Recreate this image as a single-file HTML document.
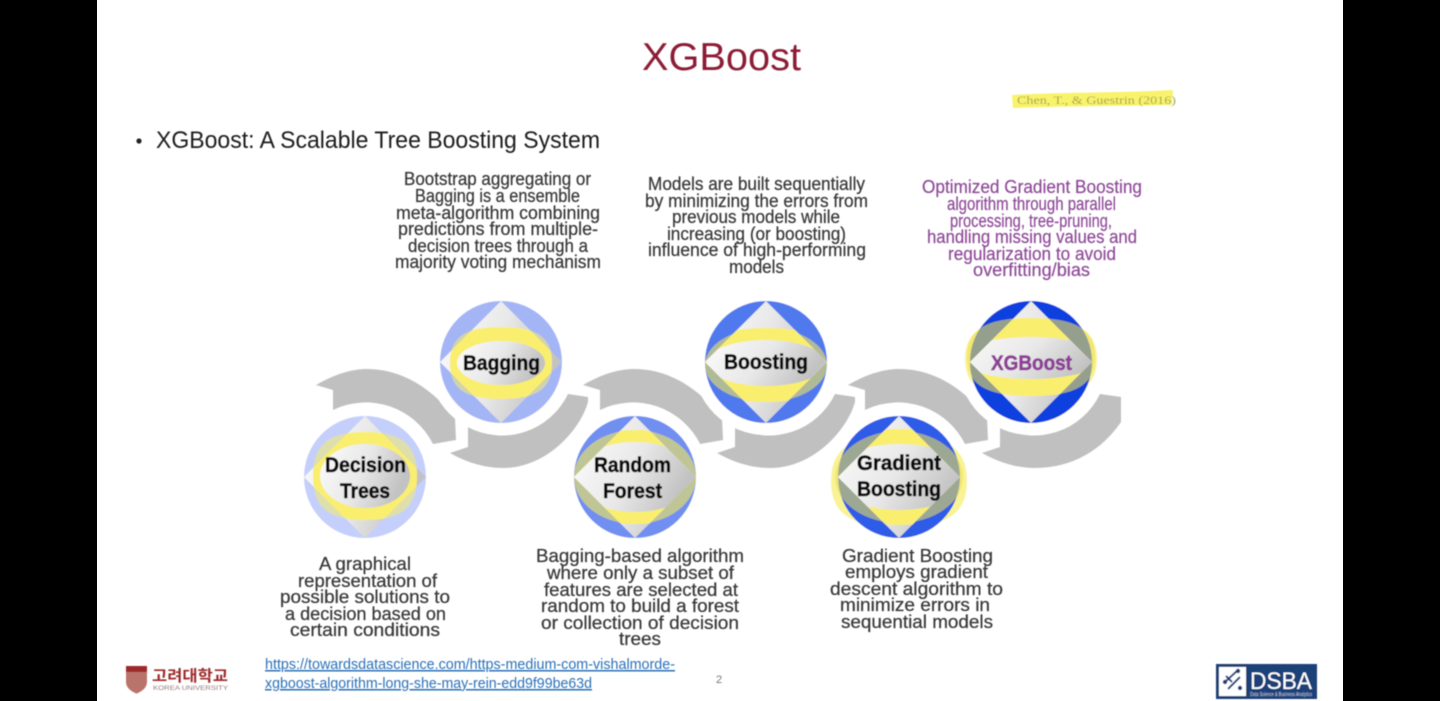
<!DOCTYPE html>
<html lang="en">
<head>
<meta charset="utf-8">
<title>XGBoost</title>
<style>
html,body{margin:0;padding:0;background:#000;width:1440px;height:701px;overflow:hidden}
svg{display:block}
text{font-family:"Liberation Sans","Noto Sans CJK KR",sans-serif}
.p{font-size:18px;fill:#3a3a3a;stroke:#3a3a3a;stroke-width:.25px}
.x{font-size:18px;fill:#8e4a98;stroke:#8e4a98;stroke-width:.2px}
.l{font-size:21px;font-weight:bold;fill:#111;stroke:#111;stroke-width:.6px}
.u{font-size:15px;fill:#2c70b8;text-decoration:underline}
</style>
</head>
<body>
<svg width="1440" height="701" viewBox="0 0 1440 701" xmlns="http://www.w3.org/2000/svg">
<defs>
<filter id="b" filterUnits="userSpaceOnUse" x="0" y="0" width="1440" height="701"><feGaussianBlur stdDeviation=".55"/></filter>
<linearGradient id="g" x1="0" y1="0" x2="1" y2="0.3">
<stop offset="0" stop-color="#fcfcfc"/><stop offset=".55" stop-color="#e8e8e8"/><stop offset="1" stop-color="#c2c2c2"/>
</linearGradient>
<clipPath id="dm"><polygon points="0,-61 61,0 0,61 -61,0"/></clipPath>
<path id="se" d="M-1,0 C-1,-.72 -.7,-1 0,-1 C.7,-1 1,-.72 1,0 C1,.72 .7,1 0,1 C-.7,1 -1,.72 -1,0Z"/>
<path id="a1" d="M316,385 C335,374 352,369 367,369 C405,369 435,392 455,418 L456,440 L433,444 A75,75 0 0 0 333,410 L333,390 Z" fill="#c0c0c0"/>
<path id="a2" d="M450,453 L468,447 L468,427 A73,73 0 0 0 568,394 L588,397 L588,402 C581,428 548,468 503,468 C484,468 466,462 450,453 Z" fill="#c0c0c0"/>
<path id="a3" d="M450,453 L468,447 L468,427 A73,73 0 0 0 568,394 L589,397 L589,422 C570,450 540,468 503,468 C484,468 466,462 450,453 Z" fill="#c0c0c0"/>
</defs>

<rect width="1440" height="701" fill="#000"/>
<rect x="97" y="0" width="1246" height="701" fill="#fff"/>

<g filter="url(#b)">
<!-- title -->
<text x="642" y="70" font-size="39" fill="#8c1f35" textLength="159" lengthAdjust="spacingAndGlyphs">XGBoost</text>
<path d="M1012,95 C1060,92 1120,93 1173,90 L1172,105 C1120,106 1060,106 1013,108 Z" fill="#f8f36a"/>
<text x="1017" y="104" font-size="12" style="font-family:'Liberation Serif',serif" fill="#a8a65a" textLength="159" lengthAdjust="spacingAndGlyphs">Chen, T., &amp; Guestrin (2016)</text>

<circle cx="139" cy="141" r="2.6" fill="#222"/>
<text x="156" y="148" font-size="24" fill="#1c1c1c" textLength="444" lengthAdjust="spacingAndGlyphs">XGBoost: A Scalable Tree Boosting System</text>

<!-- arrows -->
<use href="#a1"/><use href="#a2"/>
<use href="#a1" x="267"/><use href="#a2" x="267"/>
<use href="#a1" x="532"/><use href="#a3" x="532"/>

<!-- nodes -->
<g transform="translate(365,477)">
<circle r="73" fill="#fff"/>
<circle r="61" fill="#c4cffb"/>
<use href="#se" transform="translate(0,-1) scale(52,44)" fill="#f5ec6a" opacity=".55"/>
<polygon points="0,-61 61,0 0,61 -61,0" fill="url(#g)"/>
<g clip-path="url(#dm)"><use href="#se" transform="translate(0,-1) scale(52,44)" fill="#f9ee6e"/><ellipse cy="-1" rx="45" ry="32" fill="url(#g)"/></g>
</g>
<g transform="translate(501,362)">
<circle r="73" fill="#fff"/>
<circle r="61" fill="#a4b5f6"/>
<use href="#se" transform="translate(0,1) scale(51,36)" fill="#f5ec6a" opacity=".55"/>
<polygon points="0,-61 61,0 0,61 -61,0" fill="url(#g)"/>
<g clip-path="url(#dm)"><use href="#se" transform="translate(0,1) scale(51,36)" fill="#f9ee6e"/><ellipse cy="1" rx="44" ry="22" fill="url(#g)"/></g>
</g>
<g transform="translate(635,477)">
<circle r="73" fill="#fff"/>
<circle r="61" fill="#6f8ff1"/>
<ellipse rx="61" ry="47" fill="#f2e65c" opacity=".62"/>
<polygon points="0,-61 61,0 0,61 -61,0" fill="url(#g)"/>
<g clip-path="url(#dm)"><use href="#se" transform="scale(61,47)" fill="#f9ee6e"/><ellipse rx="62" ry="35" fill="url(#g)"/></g>
</g>
<g transform="translate(766,362)">
<circle r="73" fill="#fff"/>
<circle r="61" fill="#5179ee"/>
<ellipse cy="3" rx="61" ry="37" fill="#f2e65c" opacity=".6"/>
<polygon points="0,-61 61,0 0,61 -61,0" fill="url(#g)"/>
<g clip-path="url(#dm)"><use href="#se" transform="translate(0,3) scale(61,37)" fill="#f9ee6e"/><ellipse cy="1" rx="60" ry="23" fill="url(#g)"/></g>
</g>
<g transform="translate(899,477)">
<circle r="73" fill="#fff"/>
<use href="#se" transform="translate(0,4) scale(68,46)" fill="#f7ee6a" opacity=".7"/>
<circle r="61" fill="#2e5ce8"/>
<ellipse rx="64" ry="46" fill="#eee058" opacity=".58"/>
<polygon points="0,-61 61,0 0,61 -61,0" fill="url(#g)"/>
<g clip-path="url(#dm)"><use href="#se" transform="scale(64,48)" fill="#f9ee6e"/><ellipse rx="70" ry="33" fill="url(#g)"/></g>
</g>
<g transform="translate(1031,362)">
<circle r="73" fill="#fff"/>
<use href="#se" transform="translate(0,-3) scale(66,40)" fill="#f7ee6a" opacity=".7"/>
<circle r="61" fill="#0d3fdf"/>
<use href="#se" transform="translate(0,-5) scale(64,39)" fill="#eee058" opacity=".6"/>
<polygon points="0,-61 61,0 0,61 -61,0" fill="url(#g)"/>
<g clip-path="url(#dm)"><use href="#se" transform="translate(0,-5) scale(64,39)" fill="#f9ee6e"/><ellipse cy="-4" rx="72" ry="21" fill="url(#g)"/></g>
</g>

<!-- node labels -->
<text class="l" x="325" y="472" textLength="81" lengthAdjust="spacingAndGlyphs">Decision</text>
<text class="l" x="340" y="498" textLength="50" lengthAdjust="spacingAndGlyphs">Trees</text>
<text class="l" x="463" y="370" textLength="77" lengthAdjust="spacingAndGlyphs">Bagging</text>
<text class="l" x="594" y="472" textLength="77" lengthAdjust="spacingAndGlyphs">Random</text>
<text class="l" x="603" y="498" textLength="59" lengthAdjust="spacingAndGlyphs">Forest</text>
<text class="l" x="724" y="369" textLength="84" lengthAdjust="spacingAndGlyphs">Boosting</text>
<text class="l" x="991" y="370" textLength="81" lengthAdjust="spacingAndGlyphs" style="fill:#8e3f96;stroke:#8e3f96">XGBoost</text>
<text class="l" x="857" y="470" textLength="84" lengthAdjust="spacingAndGlyphs">Gradient</text>
<text class="l" x="857" y="496" textLength="84" lengthAdjust="spacingAndGlyphs">Boosting</text>

<!-- Bagging text -->
<text class="p" x="404" y="185" textLength="187" lengthAdjust="spacingAndGlyphs">Bootstrap aggregating or</text>
<text class="p" x="415" y="202" textLength="165" lengthAdjust="spacingAndGlyphs">Bagging is a ensemble</text>
<text class="p" x="396" y="219" textLength="204" lengthAdjust="spacingAndGlyphs">meta-algorithm combining</text>
<text class="p" x="398" y="235" textLength="200" lengthAdjust="spacingAndGlyphs">predictions from multiple-</text>
<text class="p" x="408" y="252" textLength="180" lengthAdjust="spacingAndGlyphs">decision trees through a</text>
<text class="p" x="395" y="268" textLength="206" lengthAdjust="spacingAndGlyphs">majority voting mechanism</text>

<!-- Boosting text -->
<text class="p" x="648" y="190" textLength="217" lengthAdjust="spacingAndGlyphs">Models are built sequentially</text>
<text class="p" x="645" y="207" textLength="223" lengthAdjust="spacingAndGlyphs">by minimizing the errors from</text>
<text class="p" x="672" y="223" textLength="168" lengthAdjust="spacingAndGlyphs">previous models while</text>
<text class="p" x="667" y="240" textLength="179" lengthAdjust="spacingAndGlyphs">increasing (or boosting)</text>
<text class="p" x="648" y="256" textLength="218" lengthAdjust="spacingAndGlyphs">influence of high-performing</text>
<text class="p" x="729" y="273" textLength="55" lengthAdjust="spacingAndGlyphs">models</text>

<!-- XGBoost text -->
<text class="x" x="922" y="193" textLength="220" lengthAdjust="spacingAndGlyphs">Optimized Gradient Boosting</text>
<text class="x" x="947" y="210" textLength="169" lengthAdjust="spacingAndGlyphs">algorithm through parallel</text>
<text class="x" x="950" y="227" textLength="162" lengthAdjust="spacingAndGlyphs">processing, tree-pruning,</text>
<text class="x" x="927" y="243" textLength="210" lengthAdjust="spacingAndGlyphs">handling missing values and</text>
<text class="x" x="948" y="260" textLength="168" lengthAdjust="spacingAndGlyphs">regularization to avoid</text>
<text class="x" x="973" y="276" textLength="117" lengthAdjust="spacingAndGlyphs">overfitting/bias</text>

<!-- Decision text -->
<text class="p" x="319" y="570" textLength="92" lengthAdjust="spacingAndGlyphs">A graphical</text>
<text class="p" x="298" y="587" textLength="139" lengthAdjust="spacingAndGlyphs">representation of</text>
<text class="p" x="280" y="603" textLength="170" lengthAdjust="spacingAndGlyphs">possible solutions to</text>
<text class="p" x="285" y="620" textLength="161" lengthAdjust="spacingAndGlyphs">a decision based on</text>
<text class="p" x="290" y="636" textLength="150" lengthAdjust="spacingAndGlyphs">certain conditions</text>

<!-- Random text -->
<text class="p" x="536" y="562" textLength="208" lengthAdjust="spacingAndGlyphs">Bagging-based algorithm</text>
<text class="p" x="547" y="579" textLength="187" lengthAdjust="spacingAndGlyphs">where only a subset of</text>
<text class="p" x="544" y="596" textLength="194" lengthAdjust="spacingAndGlyphs">features are selected at</text>
<text class="p" x="541" y="612" textLength="198" lengthAdjust="spacingAndGlyphs">random to build a forest</text>
<text class="p" x="541" y="629" textLength="198" lengthAdjust="spacingAndGlyphs">or collection of decision</text>
<text class="p" x="619" y="645" textLength="42" lengthAdjust="spacingAndGlyphs">trees</text>

<!-- Gradient text -->
<text class="p" x="842" y="562" textLength="151" lengthAdjust="spacingAndGlyphs">Gradient Boosting</text>
<text class="p" x="845" y="578" textLength="143" lengthAdjust="spacingAndGlyphs">employs gradient</text>
<text class="p" x="830" y="595" textLength="173" lengthAdjust="spacingAndGlyphs">descent algorithm to</text>
<text class="p" x="840" y="611" textLength="150" lengthAdjust="spacingAndGlyphs">minimize errors in</text>
<text class="p" x="841" y="628" textLength="152" lengthAdjust="spacingAndGlyphs">sequential models</text>

<!-- footer -->
<text class="u" x="265" y="669" textLength="410" lengthAdjust="spacingAndGlyphs">https://towardsdatascience.com/https-medium-com-vishalmorde-</text>
<text class="u" x="265" y="688" textLength="327" lengthAdjust="spacingAndGlyphs">xgboost-algorithm-long-she-may-rein-edd9f99be63d</text>
<text x="716" y="683" font-size="11" fill="#777">2</text>

<path d="M126,666 H147 V682 C147,688 141,692 136.5,693.5 C132,692 126,688 126,682 Z" fill="#b9736a"/>
<rect x="126" y="666" width="21" height="6" fill="#9c2a2a"/>
<text x="152" y="681" font-size="15.5" font-weight="bold" fill="#9c2a2a" textLength="76" lengthAdjust="spacingAndGlyphs" style="font-family:'Noto Sans CJK KR','NanumGothic',sans-serif">고려대학교</text>
<text x="153" y="690" font-size="6.5" fill="#9a7a7a" textLength="75" lengthAdjust="spacingAndGlyphs">KOREA UNIVERSITY</text>

<rect x="1216" y="664" width="101" height="35" fill="#1f3f78"/>
<rect x="1219" y="667" width="27" height="29" fill="#fff"/>
<path d="M1225,682 L1238,670 M1228,689 L1240,677 M1226,676 L1232,682" stroke="#1f3f78" stroke-width="2" fill="none"/>
<circle cx="1225" cy="682" r="2.2" fill="#1f3f78"/><circle cx="1238" cy="671" r="2.2" fill="#1f3f78"/><circle cx="1240" cy="688" r="2.2" fill="#1f3f78"/>
<text x="1250" y="689" font-size="24" fill="#fff" textLength="62" lengthAdjust="spacingAndGlyphs">DSBA</text>
<text x="1250" y="696" font-size="5" fill="#c8d2e6" textLength="62" lengthAdjust="spacingAndGlyphs">Data Science &amp; Business Analytics</text>
</g>
</svg>
</body>
</html>
